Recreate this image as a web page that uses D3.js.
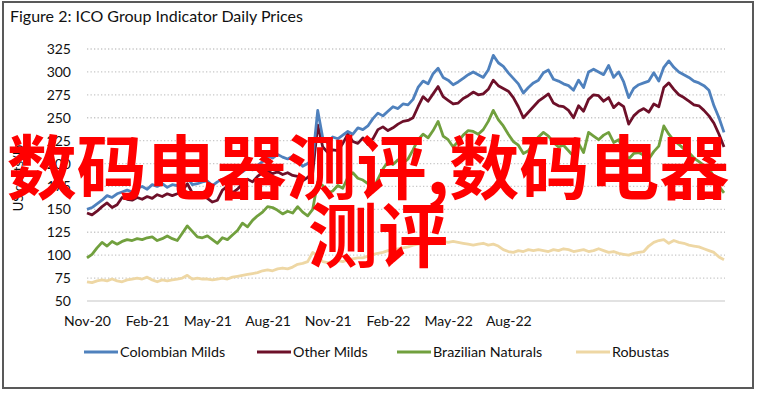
<!DOCTYPE html>
<html>
<head>
<meta charset="utf-8">
<script src="https://cdn.jsdelivr.net/npm/d3@7.9.0/dist/d3.min.js"></script>
<style>
  body { margin: 0; background: #fff; }
  svg { display: block; font-family: Lato, "Open Sans", sans-serif; }
</style>
</head>
<body>
<svg id="chart" width="759" height="393"></svg>
<script>
// roughly weekly readings, Nov 2020 onwards (US cents/lb)
const colombianMilds = [
  150,152,156,160,165,163,167,169,171,169,173,175,172,177,175,178,174,177,176,179,
  185,177,178,180,181,176,180,183,180,184,188,191,195,193,198,202,208,206,210,207,
  205,208,203,197,200,205,258,228,222,229,227,231,235,232,239,237,241,249,255,252,
  257,262,260,265,264,270,283,290,287,298,304,294,291,286,289,293,297,300,297,294,
  302,318,310,306,299,293,287,277,283,288,291,299,302,292,290,287,285,280,291,283,
  300,303,300,297,307,294,300,289,272,282,286,288,290,299,290,305,312,305,300,297,
  294,290,288,285,280,263,250,234
];
const otherMilds = [
  146,144,148,153,157,152,155,163,161,160,163,161,164,162,166,164,167,165,167,170,
  178,168,164,167,162,158,160,171,175,168,172,178,183,180,186,190,192,189,191,188,
  190,187,186,181,185,190,242,218,212,215,214,222,232,224,222,228,221,227,237,240,
  236,239,243,246,247,250,262,273,268,276,284,273,269,265,266,271,274,278,275,276,
  281,291,285,282,279,272,262,250,256,262,268,272,276,266,263,262,258,250,263,257,
  270,275,274,268,272,261,266,262,243,252,257,260,256,265,262,283,288,281,275,272,
  268,264,263,258,252,244,232,218
];
const brazilianNaturals = [
  97,101,108,114,110,115,112,115,117,116,118,117,119,120,116,118,121,118,116,124,
  132,126,120,119,121,117,113,119,117,122,127,135,131,138,143,147,153,152,149,145,
  148,146,153,147,143,150,180,176,168,170,176,173,185,190,184,182,178,171,183,194,
  202,199,204,200,205,215,226,232,228,236,246,230,226,218,224,231,236,235,232,237,
  246,258,248,241,232,224,220,211,214,222,229,234,230,223,218,220,214,208,222,212,
  234,230,226,231,234,223,226,214,205,211,212,209,205,213,219,241,232,225,221,216,
  212,206,202,198,195,185,175,168
];
const robustas = [
  71,70,72,73,72,74,72,71,73,74,75,74,76,73,71,73,72,73,74,75,
  78,74,75,74,74,73,74,75,74,76,77,78,79,80,81,83,84,83,85,86,
  85,87,90,91,93,103,99,93,92,93,94,93,95,96,97,97,99,101,102,103,
  105,106,107,108,109,111,112,113,112,114,113,115,114,115,114,113,112,111,112,113,
  111,112,110,106,104,103,105,104,106,105,106,105,104,106,105,107,106,104,105,106,
  104,105,107,105,103,104,102,101,100,102,103,104,110,114,116,117,113,116,114,113,
  111,110,109,107,105,103,98,95
];

const seriesNames = ['Colombian Milds', 'Other Milds', 'Brazilian Naturals', 'Robustas'];
const seriesColors = ['#4f81bd', '#6d1029', '#71a03e', '#eed7a4'];
const xLabels = ['Nov-20', 'Feb-21', 'May-21', 'Aug-21', 'Nov-21', 'Feb-22', 'May-22', 'Aug-22'];
const labelStep = 12; // one label every 12 readings
const yTicks = [50, 75, 100, 125, 150, 175, 200, 225, 250, 275, 300, 325];

const allSeries = [colombianMilds, otherMilds, brazilianNaturals, robustas];
const n = colombianMilds.length;

const svg = d3.select('#chart');

// frame
svg.append('rect')
  .attr('x', 3).attr('y', 2)
  .attr('width', 750).attr('height', 386)
  .attr('fill', 'none')
  .attr('stroke', '#595959')
  .attr('stroke-width', 2);

svg.append('text')
  .attr('x', 10).attr('y', 22)
  .attr('font-size', 16)
  .attr('fill', '#111')
  .text('Figure 2: ICO Group Indicator Daily Prices');

const x = d3.scaleLinear().domain([0, n - 1]).range([87, 724]);
const y = d3.scaleLinear().domain([50, 325]).range([301, 49]);

// dotted grid
svg.append('g')
  .selectAll('line')
  .data(yTicks.filter((d) => d > 50))
  .join('line')
  .attr('x1', 87).attr('x2', 725)
  .attr('y1', (d) => y(d)).attr('y2', (d) => y(d))
  .attr('stroke', '#c8c8c8')
  .attr('stroke-width', 1.3)
  .attr('stroke-dasharray', '1.3,2.2');

svg.append('line')
  .attr('x1', 87).attr('x2', 725)
  .attr('y1', y(50)).attr('y2', y(50))
  .attr('stroke', '#d9d9d9')
  .attr('stroke-width', 1.5);

const yAxis = svg.append('g')
  .attr('transform', 'translate(87,0)')
  .call(d3.axisLeft(y).tickValues(yTicks).tickSize(0).tickPadding(16));
yAxis.select('.domain').remove();
yAxis.selectAll('text').attr('font-size', 14).attr('fill', '#111').attr('font-family', 'Lato');

const xAxis = svg.append('g')
  .attr('transform', `translate(0,${y(50)})`)
  .call(d3.axisBottom(x)
    .tickValues(xLabels.map((_, k) => k * labelStep))
    .tickFormat((d) => xLabels[d / labelStep])
    .tickSize(0)
    .tickPadding(15));
xAxis.select('.domain').remove();
xAxis.selectAll('text').attr('font-size', 14).attr('fill', '#111').attr('font-family', 'Lato');

svg.append('text')
  .attr('transform', 'translate(23,178) rotate(-90)')
  .attr('text-anchor', 'middle')
  .attr('font-size', 13)
  .attr('fill', '#111')
  .text('US cents/lb');

const line = d3.line()
  .x((d, i) => x(i))
  .y((d) => y(d));

// draw back to front so Colombian sits on top
allSeries.slice().reverse().forEach((values, r) => {
  const idx = allSeries.length - 1 - r;
  svg.append('path')
    .datum(values)
    .attr('d', line)
    .attr('fill', 'none')
    .attr('stroke', seriesColors[idx])
    .attr('stroke-width', 2.8)
    .attr('stroke-linejoin', 'round');
});

// legend
const legendX = [84, 257, 397, 576];
const legend = svg.append('g');
seriesNames.forEach((name, i) => {
  legend.append('line')
    .attr('x1', legendX[i]).attr('x2', legendX[i] + 34)
    .attr('y1', 352).attr('y2', 352)
    .attr('stroke', seriesColors[i])
    .attr('stroke-width', 3);
  legend.append('text')
    .attr('x', legendX[i] + 36).attr('y', 357)
    .attr('font-size', 14.3)
    .attr('fill', '#111')
    .text(name);
});

// red overlay text
const overlay = svg.append('g')
  .attr('font-family', '"Noto Sans CJK SC", sans-serif')
  .attr('font-weight', 'bold')
  .attr('font-size', 70)
  .attr('fill', '#ff0000')
  .attr('text-anchor', 'middle');
overlay.append('text').attr('x', 368).attr('y', 194).text('数码电器测评,数码电器');
overlay.append('text').attr('x', 378).attr('y', 262).text('测评');
</script>
</body>
</html>
